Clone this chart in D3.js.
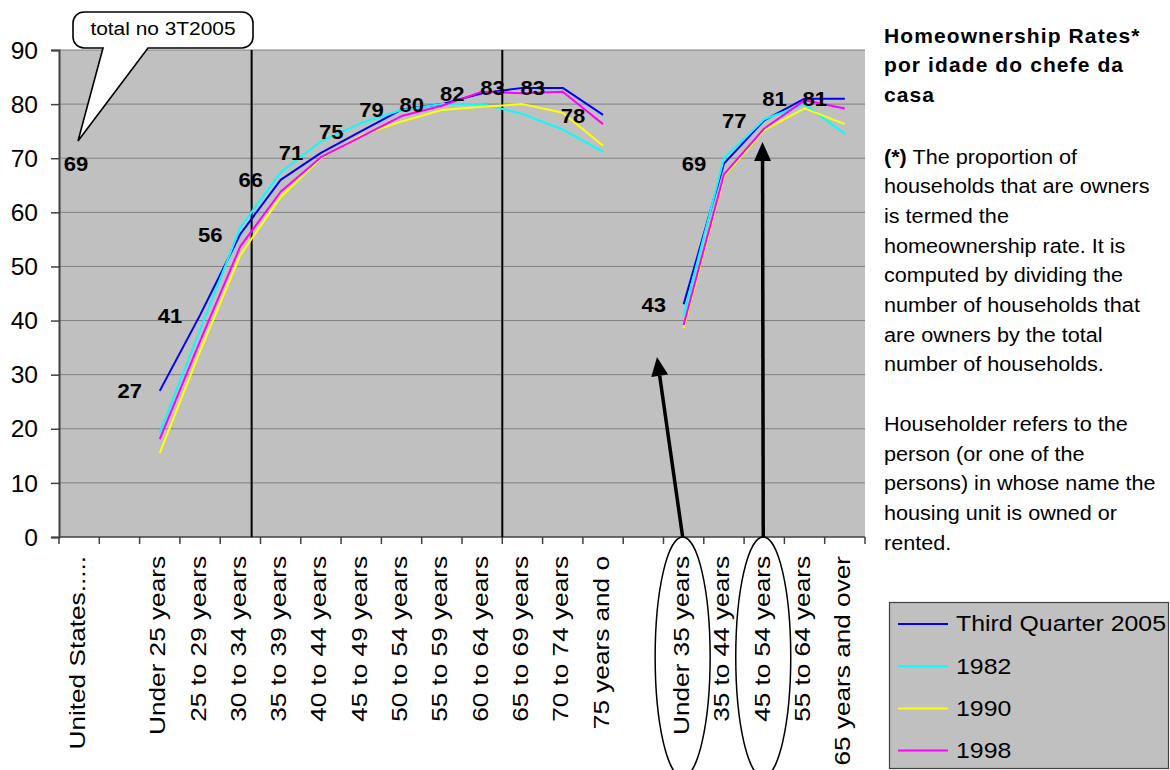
<!DOCTYPE html>
<html>
<head>
<meta charset="utf-8">
<script src="https://cdn.jsdelivr.net/npm/d3@7"></script>
<style>
  body { margin: 0; background: #fff; }
  svg { display: block; font-family: "Liberation Sans", Arial, Helvetica, sans-serif; }
</style>
</head>
<body>
<svg id="chart" width="1170" height="770"></svg>
<script>
// Age groups of the householder (blank slots split the three groups)
const categories = [
  "United States.....", "",
  "Under 25 years", "25 to 29 years", "30 to 34 years", "35 to 39 years",
  "40 to 44 years", "45 to 49 years", "50 to 54 years", "55 to 59 years",
  "60 to 64 years", "65 to 69 years", "70 to 74 years", "75 years and o", "",
  "Under 35 years", "35 to 44 years", "45 to 54 years", "55 to 64 years",
  "65 years and over"
];

// Homeownership rates (%)
const q3_2005 = [69, null, 27, 41, 56, 66, 71, 75, 79, 80, 82, 83, 83, 78, null, 43, 69, 77, 81, 81];
const y1982   = [null, null, 19.3, 38.3, 57.2, 67.4, 73.1, 76.5, 78.9, 80.0, 80.0, 78.2, 75.3, 71.2, null, 41.0, 70.0, 77.2, 80.0, 74.5];
const y1990   = [null, null, 15.5, 34.3, 52.1, 62.8, 70.0, 74.2, 76.8, 78.9, 79.5, 80.0, 78.4, 72.3, null, 38.6, 66.6, 75.2, 79.2, 76.3];
const y1998   = [null, null, 18.1, 36.2, 53.7, 63.8, 70.2, 74.0, 77.8, 79.7, 82.3, 82.0, 82.3, 76.3, null, 39.2, 67.0, 75.5, 80.7, 79.2];

const seriesNames  = ["Third Quarter 2005", "1982", "1990", "1998"];
const seriesColors = ["#0000ff", "#00ffff", "#ffff00", "#ff00ff"];
const yTickValues  = [0, 10, 20, 30, 40, 50, 60, 70, 80, 90];

const titleLines = ["Homeownership Rates*", "por idade do chefe da", "casa"];
const noteLines = [
  ["(*)", " The proportion of"],
  ["", "households that are owners"],
  ["", "is termed the"],
  ["", "homeownership rate. It is"],
  ["", "computed by dividing the"],
  ["", "number of households that"],
  ["", "are owners by the total"],
  ["", "number of households."],
  ["", ""],
  ["", "Householder refers to the"],
  ["", "person (or one of the"],
  ["", "persons) in whose name the"],
  ["", "housing unit is owned or"],
  ["", "rented."]
];
const calloutText = "total no 3T2005";

// ---- layout ----
const plot = { left: 59, right: 865, top: 50, bottom: 537 };
const svg = d3.select("#chart");
svg.append("rect").attr("width", 1170).attr("height", 770).attr("fill", "#fff");

const x = d3.scaleBand().domain(d3.range(categories.length)).range([plot.left, plot.right]).padding(0);
const y = d3.scaleLinear().domain([0, 90]).range([plot.bottom, plot.top]);
const cx = i => x(i) + x.bandwidth() / 2;

// plot background
svg.append("rect")
  .attr("x", plot.left).attr("y", plot.top)
  .attr("width", plot.right - plot.left).attr("height", plot.bottom - plot.top)
  .attr("fill", "#c0c0c0");

// horizontal gridlines
svg.append("g").selectAll("line").data(yTickValues.filter(v => v > 0)).join("line")
  .attr("x1", plot.left).attr("x2", plot.right)
  .attr("y1", d => y(d)).attr("y2", d => y(d))
  .attr("stroke", "#808080").attr("stroke-width", 1);

// y axis
const yAxis = svg.append("g").attr("transform", `translate(${plot.left},0)`)
  .call(d3.axisLeft(y).tickValues(yTickValues).tickSize(8).tickPadding(0));
yAxis.select(".domain").attr("stroke", "#404040").attr("stroke-width", 2);
yAxis.selectAll(".tick line").attr("stroke", "#404040").attr("stroke-width", 1.5);
yAxis.selectAll(".tick text")
  .attr("x", 0).attr("dy", null)
  .attr("dominant-baseline", "central")
  .attr("transform", "translate(-21,0) scale(1.07,1)")
  .attr("fill", "#000").style("font-size", "23px");

// x axis: labels at category centres, ticks at category boundaries
const xAxis = svg.append("g").attr("transform", `translate(0,${plot.bottom})`)
  .call(d3.axisBottom(x).tickSize(0).tickFormat(i => categories[i]));
xAxis.select(".domain").remove();
xAxis.selectAll(".tick text")
  .attr("x", 0).attr("y", 0).attr("dy", null)
  .attr("text-anchor", "end")
  .attr("transform", "translate(5.5,19) rotate(-90) scale(1.19,1)")
  .attr("fill", "#000").style("font-size", "22px");
svg.append("line")
  .attr("x1", plot.left).attr("x2", plot.right)
  .attr("y1", plot.bottom).attr("y2", plot.bottom)
  .attr("stroke", "#404040").attr("stroke-width", 1.5);
svg.append("g").selectAll("line").data(d3.range(categories.length + 1)).join("line")
  .attr("x1", i => plot.left + i * x.step()).attr("x2", i => plot.left + i * x.step())
  .attr("y1", plot.bottom).attr("y2", plot.bottom + 7)
  .attr("stroke", "#404040").attr("stroke-width", 1.5);

// vertical separators between age bands
const separatorSlots = [4.78, 11];
svg.append("g").selectAll("line").data(separatorSlots).join("line")
  .attr("x1", s => plot.left + s * x.step()).attr("x2", s => plot.left + s * x.step())
  .attr("y1", plot.top).attr("y2", plot.bottom)
  .attr("stroke", "#000").attr("stroke-width", 2);

// series lines
const allSeries = [q3_2005, y1982, y1990, y1998];
const line = d3.line()
  .defined(d => d.v != null)
  .x(d => cx(d.i)).y(d => y(d.v));
svg.append("g").selectAll("path").data(allSeries).join("path")
  .attr("d", s => line(s.map((v, i) => ({ i, v }))))
  .attr("fill", "none")
  .attr("stroke", (s, k) => seriesColors[k])
  .attr("stroke-width", 2)
  .attr("stroke-linejoin", "round");

// value labels for the current series, placed left of each point
svg.append("g").selectAll("text")
  .data(q3_2005.map((v, i) => ({ i, v })).filter(d => d.v != null)).join("text")
  .attr("transform", d => `translate(${Math.max(cx(d.i) - 30, plot.left + 17)},${y(d.v)}) scale(1.05,1)`)
  .attr("dy", "0.36em")
  .attr("text-anchor", "middle")
  .style("font-size", "21px").style("font-weight", "bold")
  .text(d => d.v);

// callout bubble
const cb = { x0: 73, y0: 12, x1: 253, y1: 48, r: 11 };
const tail = { a: 148, b: 103, tipX: 78, tipY: 141 };
const bubblePath = `M${cb.x0 + cb.r},${cb.y0} L${cb.x1 - cb.r},${cb.y0}
  A${cb.r},${cb.r} 0 0 1 ${cb.x1},${cb.y0 + cb.r} L${cb.x1},${cb.y1 - cb.r}
  A${cb.r},${cb.r} 0 0 1 ${cb.x1 - cb.r},${cb.y1} L${tail.a},${cb.y1}
  L${tail.tipX},${tail.tipY} L${tail.b},${cb.y1} L${cb.x0 + cb.r},${cb.y1}
  A${cb.r},${cb.r} 0 0 1 ${cb.x0},${cb.y1 - cb.r} L${cb.x0},${cb.y0 + cb.r}
  A${cb.r},${cb.r} 0 0 1 ${cb.x0 + cb.r},${cb.y0} Z`;
svg.append("path").attr("d", bubblePath)
  .attr("fill", "#fff").attr("stroke", "#000").attr("stroke-width", 1.6);
svg.append("text")
  .attr("transform", `translate(${(cb.x0 + cb.x1) / 2},35) scale(1.1,1)`)
  .attr("text-anchor", "middle").style("font-size", "19px")
  .text(calloutText);

// ellipses around highlighted groups and arrows pointing at them
const highlight = [15, 17];
svg.append("g").selectAll("ellipse").data(highlight).join("ellipse")
  .attr("cx", i => cx(i) - 1).attr("cy", 657)
  .attr("rx", 27.5).attr("ry", 120)
  .attr("fill", "none").attr("stroke", "#000").attr("stroke-width", 1.5);

const arrows = [
  { x0: cx(15) - 1, y0: plot.bottom, x1: 657, y1: 357 },
  { x0: cx(17) - 1, y0: plot.bottom, x1: 762.5, y1: 142 }
];
arrows.forEach(a => {
  const ang = Math.atan2(a.y1 - a.y0, a.x1 - a.x0);
  const hl = 19, hw = 8.5;
  const bx = a.x1 - hl * Math.cos(ang), by = a.y1 - hl * Math.sin(ang);
  const nx = -Math.sin(ang), ny = Math.cos(ang);
  svg.append("line")
    .attr("x1", a.x0).attr("y1", a.y0).attr("x2", bx).attr("y2", by)
    .attr("stroke", "#000").attr("stroke-width", 3.5);
  svg.append("path")
    .attr("d", `M${a.x1},${a.y1} L${bx + nx * hw},${by + ny * hw} L${bx - nx * hw},${by - ny * hw} Z`)
    .attr("fill", "#000");
});

// title and note on the right
const panelX = 884;
svg.append("g").selectAll("text").data(titleLines).join("text")
  .attr("x", panelX).attr("y", (d, k) => 43 + k * 29.3)
  .style("font-size", "21px").style("font-weight", "bold")
  .style("letter-spacing", "1.1px")
  .text(d => d);

const note = svg.append("g").selectAll("text").data(noteLines).join("text")
  .attr("transform", (d, k) => `translate(${panelX},${163.5 + k * 29.7}) scale(1.03,1)`)
  .style("font-size", "21px");
note.append("tspan").style("font-weight", "bold").text(d => d[0]);
note.append("tspan").text(d => d[1]);

// legend
const lg = svg.append("g");
lg.append("rect").attr("x", 889.5).attr("y", 602.5).attr("width", 279).attr("height", 166)
  .attr("fill", "#c0c0c0").attr("stroke", "#404040").attr("stroke-width", 1.2);
const items = lg.selectAll("g.item").data(seriesNames).join("g")
  .attr("class", "item")
  .attr("transform", (d, k) => `translate(0,${624 + k * 42.2})`);
items.append("line").attr("x1", 898).attr("x2", 948).attr("y1", 0).attr("y2", 0)
  .attr("stroke", (d, k) => seriesColors[k]).attr("stroke-width", 2);
items.append("text")
  .attr("transform", "translate(956,0) scale(1.13,1)")
  .attr("dominant-baseline", "central")
  .style("font-size", "22px")
  .text(d => d);
</script>
</body>
</html>
